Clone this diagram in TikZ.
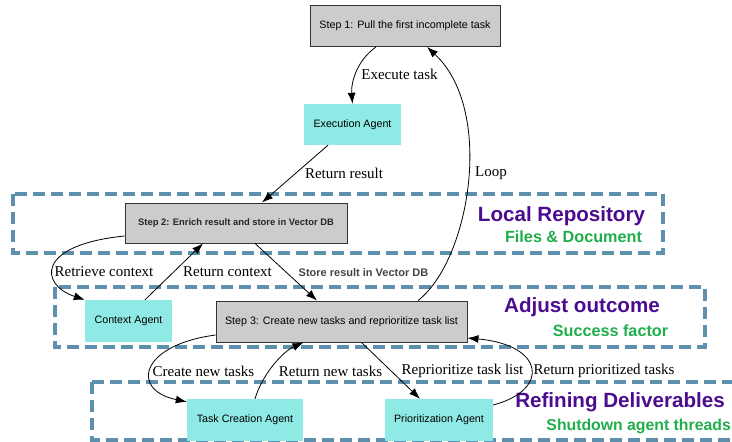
\documentclass[tikz,border=0pt]{standalone}
\usepackage{fontspec}
\setmainfont{Liberation Serif}
\setsansfont{Liberation Sans}
\usetikzlibrary{arrows.meta}
\definecolor{gbox}{HTML}{CCCCCC}
\definecolor{cbox}{HTML}{8FEAE5}
\definecolor{dashc}{HTML}{5E8FAC}
\definecolor{purp}{HTML}{4B0C8F}
\definecolor{grn}{HTML}{1FAE4B}
\definecolor{storec}{HTML}{444444}
\begin{document}
\begin{tikzpicture}[x=1pt,y=-1pt,
  stepbox/.style={draw=black!80, line width=0.9pt, fill=gbox, minimum width=#1, minimum height=41pt, inner sep=0pt, font=\sffamily\fontsize{10.7}{12}\selectfont},
  agentbox/.style={fill=cbox, minimum width=#1, minimum height=42pt, inner sep=0pt, font=\sffamily\fontsize{10.7}{12}\selectfont},
  region/.style={draw=dashc, line width=3.2pt, dash pattern=on 12pt off 6pt},
  elabel/.style={inner sep=0pt, font=\fontsize{15}{17}\selectfont},
  bigtitle/.style={inner sep=0pt, text=purp, font=\sffamily\bfseries\fontsize{20.6}{24}\selectfont},
  subtitle/.style={inner sep=0pt, text=grn, font=\sffamily\bfseries\fontsize{16.2}{19}\selectfont},
  conn/.style={-{Latex[length=11pt,width=8pt]}, line width=0.8pt}
]
\useasboundingbox (0,0) rectangle (732,442);

% dashed regions
\draw[region] (13,194) rectangle (663,253);
\draw[region] (55,287) rectangle (705,347);
\draw[region] (92,382) rectangle (760,440);

% nodes
\node[stepbox=190pt] (s1) at (405,26) {Step 1: Pull the first incomplete task};
\node[agentbox=97pt, minimum height=41pt] (ex) at (352.5,124.5) {Execution Agent};
\node[stepbox=222pt, minimum height=40pt, font=\sffamily\bfseries\fontsize{9.4}{11}\selectfont, text=black!85] (s2) at (236,223) {Step 2: Enrich result and store in Vector DB};
\node[agentbox=87pt] (ctx) at (128.5,321) {Context Agent};
\node[stepbox=251pt] (s3) at (341.5,321.5) {Step 3: Create new tasks and reprioritize task list};
\node[agentbox=116pt] (tc) at (245,420) {Task Creation Agent};
\node[agentbox=108pt] (pa) at (439,420) {Prioritization Agent};

% region titles
\node[bigtitle] (t1) at (561.5,216) {Local Repository};
\node[subtitle] (u1) at (573.5,237) {Files \& Document};
\node[bigtitle] (t2) at (582,307) {Adjust outcome};
\node[subtitle] (u2) at (610.5,331) {Success factor};
\node[bigtitle] (t3) at (620,402) {Refining Deliverables};
\node[subtitle, anchor=east, font=\sffamily\bfseries\fontsize{15.8}{19}\selectfont] (u3) at (731,426) {Shutdown agent threads};

% connectors
\draw[conn] ([xshift=-29pt]s1.south) .. controls (355,62) and (351,85) .. (ex.north);
\draw[conn] ([xshift=-24.5pt]ex.south) -- ([xshift=26pt]s2.north);
\draw[conn] ([xshift=76.5pt]s3.north) .. controls (470,260) and (495,110) .. ([xshift=22pt]s1.south);
\draw[conn] ([yshift=-13pt]s2.west) .. controls (35,245) and (40,285) .. (ctx.north west);
\draw[conn] ([xshift=16.5pt]ctx.north) -- ([xshift=-33pt]s2.south);
\draw[conn] ([xshift=19pt]s2.south) -- ([xshift=-24.5pt]s3.north);
\draw[conn] ([yshift=-13.5pt]s3.west) .. controls (140,345) and (130,390) .. ([yshift=-3pt]tc.north west);
\draw[conn] ([xshift=10pt]tc.north) .. controls (262,375) and (282,352) .. ([xshift=-38pt]s3.south);
\draw[conn] ([xshift=20pt]s3.south) -- ([xshift=-19pt]pa.north);
\draw[conn] ([yshift=15pt]pa.east) .. controls (550,390) and (545,345) .. ([yshift=-16.5pt]s3.east);

% connector labels
\node[elabel] (l1) at (399.5,74) {Execute task};
\node[elabel] (l2) at (344,173) {Return result};
\node[elabel] (l3) at (491,173) {Loop};
\node[elabel] (l4) at (104,272) {Retrieve context};
\node[elabel] (l5) at (227.5,272) {Return context};
\node[inner sep=0pt, text=storec, font=\sffamily\bfseries\fontsize{11}{13}\selectfont] (l6) at (363.5,273) {Store result in Vector DB};
\node[elabel] (l7) at (203.5,371) {Create new tasks};
\node[elabel] (l8) at (330.5,371) {Return new tasks};
\node[elabel] (l9) at (462.5,371) {Reprioritize task list};
\node[elabel] (l10) at (604,371) {Return prioritized tasks};
\end{tikzpicture}
\end{document}
